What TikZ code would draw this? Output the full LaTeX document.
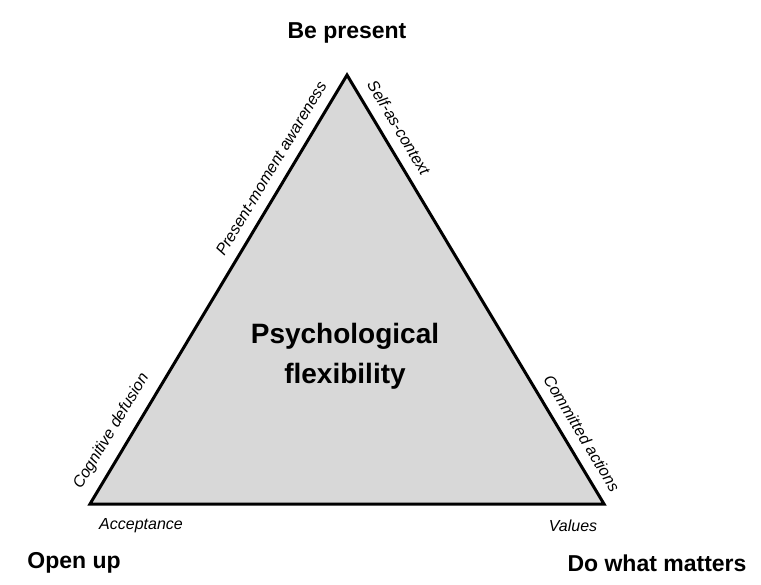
\documentclass[tikz,border=0pt]{standalone}
\usepackage{fontspec}
\setmainfont{Liberation Sans}
\definecolor{trifill}{RGB}{216,216,216}
\tikzset{
  cornerlab/.style={font=\fontsize{23}{27}\selectfont\bfseries, inner sep=0pt},
  baselab/.style={font=\fontsize{16}{19}\selectfont\itshape, inner sep=0pt},
  sidelab/.style={font=\fontsize{16}{19}\selectfont\itshape, sloped, above=8pt},
  centrelab/.style={font=\fontsize{28}{40}\selectfont\bfseries, align=center, inner sep=0pt},
}
\begin{document}
\begin{tikzpicture}[x=1pt, y=-1pt]
  \useasboundingbox (0,0) rectangle (761,585);
  % corners of the triangle
  \coordinate (top) at (347,75);
  \coordinate (left) at (90,504);
  \coordinate (right) at (604,504);
  \draw[line width=3pt, line join=miter, fill=trifill] (top) -- (right) -- (left) -- cycle;
  % sides
  \path (left) -- node[sidelab, pos=0.147] (defusion) {Cognitive defusion}
                  node[sidelab, pos=0.762] (aware) {Present-moment awareness} (top);
  \path (top) -- node[sidelab, pos=0.144] (self) {Self-as-context}
                 node[sidelab, pos=0.856] (commit) {Committed actions} (right);
  % corner labels
  \node[cornerlab] (present) at (347,33) {Be present};
  \node[cornerlab] (open) at (74,563) {Open up};
  \node[cornerlab] (matters) at (657,563) {Do what matters};
  \node[baselab] (accept) at (141,526) {Acceptance};
  \node[baselab] (values) at (573,526) {Values};
  % centre
  \node[centrelab] (flex) at (345,356) {Psychological\\flexibility};
\end{tikzpicture}
\end{document}
